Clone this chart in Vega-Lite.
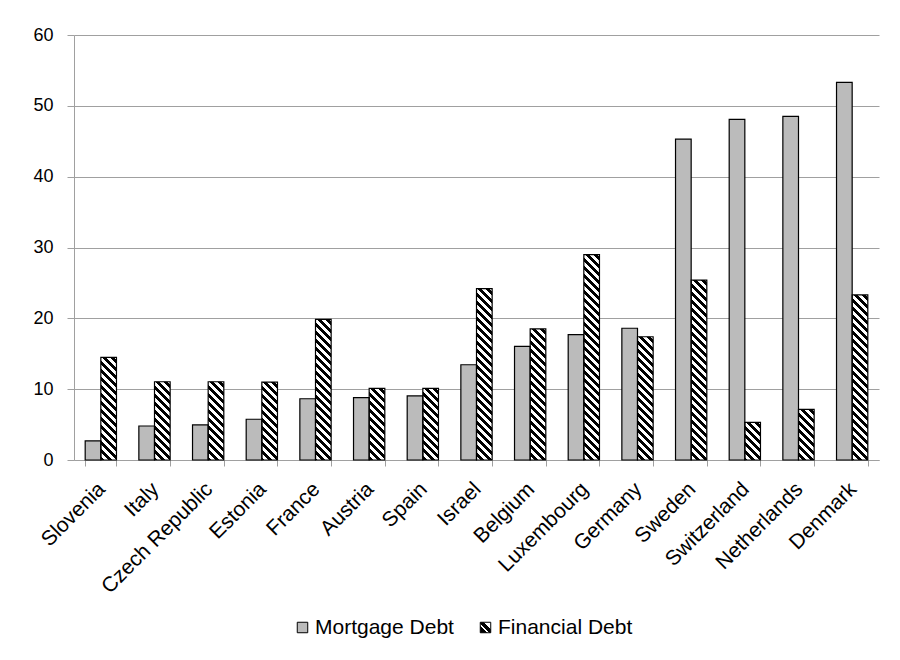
{
  "$schema": "https://vega.github.io/schema/vega-lite/v6.json",
  "width": 805,
  "height": 425,
  "autosize": {"type": "none"},
  "padding": {"left": 74, "top": 35, "right": 21, "bottom": 200},
  "background": "white",
  "config": {"font": "Liberation Sans", "view": {"stroke": null}},
  "data": {
    "values": [
      {"country": "Slovenia", "series": "Mortgage Debt", "value": 2.7},
      {"country": "Slovenia", "series": "Financial Debt", "value": 14.5},
      {"country": "Italy", "series": "Mortgage Debt", "value": 4.8},
      {"country": "Italy", "series": "Financial Debt", "value": 11.05},
      {"country": "Czech Republic", "series": "Mortgage Debt", "value": 4.95},
      {"country": "Czech Republic", "series": "Financial Debt", "value": 11.05},
      {"country": "Estonia", "series": "Mortgage Debt", "value": 5.75},
      {"country": "Estonia", "series": "Financial Debt", "value": 11.0},
      {"country": "France", "series": "Mortgage Debt", "value": 8.65},
      {"country": "France", "series": "Financial Debt", "value": 19.85},
      {"country": "Austria", "series": "Mortgage Debt", "value": 8.8},
      {"country": "Austria", "series": "Financial Debt", "value": 10.1},
      {"country": "Spain", "series": "Mortgage Debt", "value": 9.05},
      {"country": "Spain", "series": "Financial Debt", "value": 10.1},
      {"country": "Israel", "series": "Mortgage Debt", "value": 13.45},
      {"country": "Israel", "series": "Financial Debt", "value": 24.2},
      {"country": "Belgium", "series": "Mortgage Debt", "value": 16.05},
      {"country": "Belgium", "series": "Financial Debt", "value": 18.5},
      {"country": "Luxembourg", "series": "Mortgage Debt", "value": 17.7},
      {"country": "Luxembourg", "series": "Financial Debt", "value": 29.0},
      {"country": "Germany", "series": "Mortgage Debt", "value": 18.6},
      {"country": "Germany", "series": "Financial Debt", "value": 17.4},
      {"country": "Sweden", "series": "Mortgage Debt", "value": 45.3},
      {"country": "Sweden", "series": "Financial Debt", "value": 25.4},
      {"country": "Switzerland", "series": "Mortgage Debt", "value": 48.1},
      {"country": "Switzerland", "series": "Financial Debt", "value": 5.3},
      {"country": "Netherlands", "series": "Mortgage Debt", "value": 48.5},
      {"country": "Netherlands", "series": "Financial Debt", "value": 7.15},
      {"country": "Denmark", "series": "Mortgage Debt", "value": 53.3},
      {"country": "Denmark", "series": "Financial Debt", "value": 23.3}
    ]
  },
  "encoding": {
    "x": {
      "field": "country",
      "type": "nominal",
      "sort": ["Slovenia", "Italy", "Czech Republic", "Estonia", "France", "Austria", "Spain", "Israel", "Belgium", "Luxembourg", "Germany", "Sweden", "Switzerland", "Netherlands", "Denmark"],
      "scale": {"paddingInner": 0.417, "paddingOuter": 0.2085},
      "axis": {
        "title": null,
        "labelAngle": -45,
        "labelFontSize": 21,
        "labelColor": "#000000",
        "tickBand": "extent",
        "tickSize": 6,
        "tickColor": "#A0A0A0",
        "domainColor": "#A0A0A0",
        "grid": false,
        "labelPadding": 12,
        "labelOffset": -7
      }
    },
    "xOffset": {
      "field": "series",
      "type": "nominal",
      "scale": {"domain": ["Mortgage Debt", "Financial Debt"], "paddingInner": 0, "paddingOuter": 0}
    },
    "y": {
      "field": "value",
      "type": "quantitative",
      "scale": {"domain": [0, 60], "nice": false},
      "axis": {
        "title": null,
        "values": [0, 10, 20, 30, 40, 50, 60],
        "labelFontSize": 18,
        "labelColor": "#000000",
        "tickSize": 7,
        "tickColor": "#A0A0A0",
        "domainColor": "#A0A0A0",
        "gridColor": "#A0A0A0",
        "labelPadding": 14
      }
    }
  },
  "resolve": {"scale": {"shape": "independent"}, "legend": {"shape": "independent"}},
  "layer": [
    {
      "transform": [{"filter": "datum.series === 'Financial Debt'"}],
      "mark": {
        "type": "point",
        "shape": "M-0.0364,0L0.0364,0L0.0364,1L-0.0364,1Z",
        "size": 184900,
        "filled": true,
        "opacity": 1,
        "strokeWidth": 0,
        "clip": true,
        "fill": {
          "gradient": "linear",
          "x1": 0, "y1": 1, "x2": 0.0808, "y2": -0.1104,
          "stops": [
            {"offset": 0, "color": "#000"}, {"offset": 0.0167, "color": "#000"}, {"offset": 0.0167, "color": "#fff"}, {"offset": 0.0333, "color": "#fff"},
            {"offset": 0.0333, "color": "#000"}, {"offset": 0.05, "color": "#000"}, {"offset": 0.05, "color": "#fff"}, {"offset": 0.0667, "color": "#fff"},
            {"offset": 0.0667, "color": "#000"}, {"offset": 0.0833, "color": "#000"}, {"offset": 0.0833, "color": "#fff"}, {"offset": 0.1, "color": "#fff"},
            {"offset": 0.1, "color": "#000"}, {"offset": 0.1167, "color": "#000"}, {"offset": 0.1167, "color": "#fff"}, {"offset": 0.1333, "color": "#fff"},
            {"offset": 0.1333, "color": "#000"}, {"offset": 0.15, "color": "#000"}, {"offset": 0.15, "color": "#fff"}, {"offset": 0.1667, "color": "#fff"},
            {"offset": 0.1667, "color": "#000"}, {"offset": 0.1833, "color": "#000"}, {"offset": 0.1833, "color": "#fff"}, {"offset": 0.2, "color": "#fff"},
            {"offset": 0.2, "color": "#000"}, {"offset": 0.2167, "color": "#000"}, {"offset": 0.2167, "color": "#fff"}, {"offset": 0.2333, "color": "#fff"},
            {"offset": 0.2333, "color": "#000"}, {"offset": 0.25, "color": "#000"}, {"offset": 0.25, "color": "#fff"}, {"offset": 0.2667, "color": "#fff"},
            {"offset": 0.2667, "color": "#000"}, {"offset": 0.2833, "color": "#000"}, {"offset": 0.2833, "color": "#fff"}, {"offset": 0.3, "color": "#fff"},
            {"offset": 0.3, "color": "#000"}, {"offset": 0.3167, "color": "#000"}, {"offset": 0.3167, "color": "#fff"}, {"offset": 0.3333, "color": "#fff"},
            {"offset": 0.3333, "color": "#000"}, {"offset": 0.35, "color": "#000"}, {"offset": 0.35, "color": "#fff"}, {"offset": 0.3667, "color": "#fff"},
            {"offset": 0.3667, "color": "#000"}, {"offset": 0.3833, "color": "#000"}, {"offset": 0.3833, "color": "#fff"}, {"offset": 0.4, "color": "#fff"},
            {"offset": 0.4, "color": "#000"}, {"offset": 0.4167, "color": "#000"}, {"offset": 0.4167, "color": "#fff"}, {"offset": 0.4333, "color": "#fff"},
            {"offset": 0.4333, "color": "#000"}, {"offset": 0.45, "color": "#000"}, {"offset": 0.45, "color": "#fff"}, {"offset": 0.4667, "color": "#fff"},
            {"offset": 0.4667, "color": "#000"}, {"offset": 0.4833, "color": "#000"}, {"offset": 0.4833, "color": "#fff"}, {"offset": 0.5, "color": "#fff"},
            {"offset": 0.5, "color": "#000"}, {"offset": 0.5167, "color": "#000"}, {"offset": 0.5167, "color": "#fff"}, {"offset": 0.5333, "color": "#fff"},
            {"offset": 0.5333, "color": "#000"}, {"offset": 0.55, "color": "#000"}, {"offset": 0.55, "color": "#fff"}, {"offset": 0.5667, "color": "#fff"},
            {"offset": 0.5667, "color": "#000"}, {"offset": 0.5833, "color": "#000"}, {"offset": 0.5833, "color": "#fff"}, {"offset": 0.6, "color": "#fff"},
            {"offset": 0.6, "color": "#000"}, {"offset": 0.6167, "color": "#000"}, {"offset": 0.6167, "color": "#fff"}, {"offset": 0.6333, "color": "#fff"},
            {"offset": 0.6333, "color": "#000"}, {"offset": 0.65, "color": "#000"}, {"offset": 0.65, "color": "#fff"}, {"offset": 0.6667, "color": "#fff"},
            {"offset": 0.6667, "color": "#000"}, {"offset": 0.6833, "color": "#000"}, {"offset": 0.6833, "color": "#fff"}, {"offset": 0.7, "color": "#fff"},
            {"offset": 0.7, "color": "#000"}, {"offset": 0.7167, "color": "#000"}, {"offset": 0.7167, "color": "#fff"}, {"offset": 0.7333, "color": "#fff"},
            {"offset": 0.7333, "color": "#000"}, {"offset": 0.75, "color": "#000"}, {"offset": 0.75, "color": "#fff"}, {"offset": 0.7667, "color": "#fff"},
            {"offset": 0.7667, "color": "#000"}, {"offset": 0.7833, "color": "#000"}, {"offset": 0.7833, "color": "#fff"}, {"offset": 0.8, "color": "#fff"},
            {"offset": 0.8, "color": "#000"}, {"offset": 0.8167, "color": "#000"}, {"offset": 0.8167, "color": "#fff"}, {"offset": 0.8333, "color": "#fff"},
            {"offset": 0.8333, "color": "#000"}, {"offset": 0.85, "color": "#000"}, {"offset": 0.85, "color": "#fff"}, {"offset": 0.8667, "color": "#fff"},
            {"offset": 0.8667, "color": "#000"}, {"offset": 0.8833, "color": "#000"}, {"offset": 0.8833, "color": "#fff"}, {"offset": 0.9, "color": "#fff"},
            {"offset": 0.9, "color": "#000"}, {"offset": 0.9167, "color": "#000"}, {"offset": 0.9167, "color": "#fff"}, {"offset": 0.9333, "color": "#fff"},
            {"offset": 0.9333, "color": "#000"}, {"offset": 0.95, "color": "#000"}, {"offset": 0.95, "color": "#fff"}, {"offset": 0.9667, "color": "#fff"},
            {"offset": 0.9667, "color": "#000"}, {"offset": 0.9833, "color": "#000"}, {"offset": 0.9833, "color": "#fff"}, {"offset": 1, "color": "#fff"}
          ]
        }
      }
    },
    {
      "mark": {"type": "bar", "stroke": "#000000", "strokeWidth": 1.2},
      "encoding": {
        "color": {
          "field": "series",
          "type": "nominal",
          "scale": {"domain": ["Mortgage Debt", "Financial Debt"], "range": ["#BBBBBB", "transparent"]},
          "legend": null
        }
      }
    },
    {
      "transform": [{"filter": "datum.series === 'none'"}],
      "mark": {"type": "point", "filled": true, "fill": "#BBBBBB", "stroke": "#000000", "strokeWidth": 1, "opacity": 1, "size": 110},
      "encoding": {
        "shape": {
          "field": "series",
          "type": "nominal",
          "scale": {"domain": ["Mortgage Debt"], "range": ["square"]},
          "legend": {
            "orient": "none",
            "legendX": 218,
            "legendY": 582,
            "title": null,
            "padding": 0,
            "symbolSize": 110,
            "symbolStrokeWidth": 1,
            "labelFontSize": 21,
            "labelColor": "#000000",
            "labelOffset": 2
          }
        }
      }
    },
    {
      "transform": [{"filter": "datum.series === 'none'"}],
      "mark": {
        "type": "point",
        "filled": true,
        "stroke": "#000000",
        "strokeWidth": 1,
        "opacity": 1,
        "size": 110,
        "fill": {
          "gradient": "linear",
          "x1": 1, "y1": 0, "x2": 0, "y2": 1,
          "stops": [
            {"offset": 0, "color": "#fff"}, {"offset": 0.33, "color": "#fff"},
            {"offset": 0.33, "color": "#000"}, {"offset": 0.55, "color": "#000"},
            {"offset": 0.55, "color": "#fff"}, {"offset": 0.67, "color": "#fff"},
            {"offset": 0.67, "color": "#000"}, {"offset": 1, "color": "#000"}
          ]
        }
      },
      "encoding": {
        "shape": {
          "field": "series",
          "type": "nominal",
          "scale": {"domain": ["Financial Debt"], "range": ["square"]},
          "legend": {
            "orient": "none",
            "legendX": 401,
            "legendY": 582,
            "title": null,
            "padding": 0,
            "symbolSize": 110,
            "symbolStrokeWidth": 1,
            "labelFontSize": 21,
            "labelColor": "#000000",
            "labelOffset": 2
          }
        }
      }
    }
  ]
}
